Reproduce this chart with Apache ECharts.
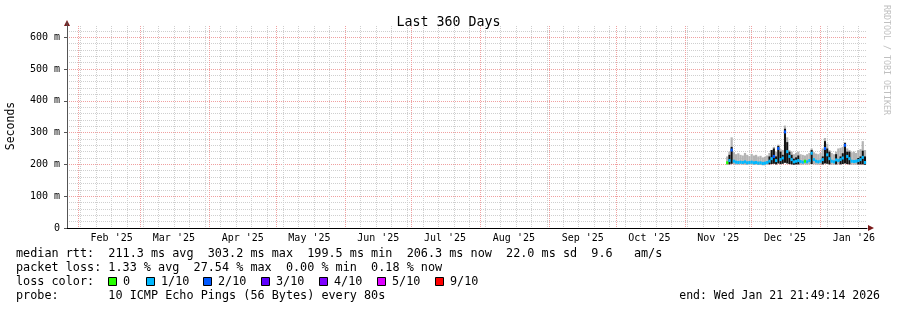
<!DOCTYPE html>
<html><head><meta charset="utf-8">
<script src="https://cdn.jsdelivr.net/npm/echarts@6/dist/echarts.min.js"></script>
<style>html,body{margin:0;padding:0;background:#fff}#c{width:897px;height:310px}</style>
</head><body><div id="c"></div>
<script>
// ---- time frame ----
const END_TIME = Date.UTC(2026, 0, 21, 21, 49, 14);
const START_TIME = END_TIME - 360 * 86400000;
const FIRST_DAY = Date.UTC(2025, 10, 20);   // first day with data (daily samples)

// ---- series values (ms), one per day from Nov 20 2025 ----
const medianRtt = [205,212,245,210,207,206,207,206,208,205,206,207,205,206,204,205,203,204,206,210,
                   218,225,212,250,215,220,302,240,225,215,208,210,212,209,207,210,208,212,235,215,
                   210,208,210,215,250,230,218,210,208,214,212,215,220,260,225,218,210,209,210,212,
                   215,222,206];
const smokeLow  = [199,200,202,200,199,199,200,199,199,198,199,199,198,199,198,198,197,197,199,200,
                   201,202,200,203,201,202,205,203,201,200,199,200,200,199,199,200,199,200,201,200,
                   199,199,200,200,203,202,200,199,199,200,200,200,201,203,201,200,199,199,199,200,
                   200,200,199];
const smokeHigh = [225,240,285,238,232,235,230,228,236,230,226,233,228,230,225,227,222,224,228,236,
                   245,255,240,262,248,245,322,285,245,240,232,236,240,232,230,228,232,236,250,238,
                   234,232,236,250,283,265,245,236,232,240,250,252,255,270,250,245,238,240,236,245,
                   248,273,245];
const darkTop   = [0,230,255,0,0,0,0,0,0,0,0,0,0,0,0,0,0,0,0,225,
                   245,250,225,258,240,230,312,270,240,230,218,222,228,0,0,0,0,0,245,0,
                   0,0,0,225,273,250,240,0,0,232,0,225,235,267,240,240,0,0,0,220,
                   225,243,225];
const lossTenths = [0,1,2,1,1,1,1,1,1,1,1,1,1,1,1,1,1,1,1,1,
                    1,2,1,2,1,1,2,1,1,1,1,1,1,1,1,0,1,1,1,1,
                    1,1,1,1,2,1,1,1,1,1,1,1,1,2,1,1,1,1,1,1,
                    1,1,1];

// ---- tick labels ----
const monthLabels = ["Feb '25","Mar '25","Apr '25","May '25","Jun '25","Jul '25",
                     "Aug '25","Sep '25","Oct '25","Nov '25","Dec '25","Jan '26"];
const yMajorTicks = [0,100,200,300,400,500,600];
const yMajorLabels = ["0","100 m","200 m","300 m","400 m","500 m","600 m"];
const lossNames = ["0","1/10","2/10","3/10","4/10","5/10","9/10"];
const lossColors = ["#26ff00","#00b8ff","#0059ff","#5e00ff","#7e00ff","#dd00ff","#ff0000"];

// ---- derived tick positions ----
const DAY = 86400000;
const GRID_GREY = '#cfcfcf';
const GRID_RED = '#f0a0a0';
const monthStarts = monthLabels.map((_, i) => Date.UTC(2025, 1 + i, 1));
const monthMids = monthLabels.map((_, i) => Date.UTC(2025, 1 + i, 16));
const weekLines = [];
for (let t = Date.UTC(2025, 1, 2); t <= END_TIME; t += 7 * DAY) weekLines.push(t);
const yMinorTicks = [];
for (let v = 0; v <= 620; v += 20) yMinorTicks.push(v);

const days = medianRtt.map((_, i) => FIRST_DAY + i * DAY);
const MONO = "DejaVu Sans Mono";

const chart = echarts.init(document.getElementById('c'), null, {renderer: 'canvas'});

function rectBetween(api, t0, t1, vTop, vBot) {
  const a = api.coord([t0, vTop]);
  const b = api.coord([t1, vBot]);
  return {x: a[0], y: a[1], width: b[0] - a[0], height: b[1] - a[1]};
}

const grid = {left: 67, right: 30, top: 26, bottom: 82};

const lossTexts = [];
const lossBoxX = [108, 146, 203, 261, 319, 377, 435];
lossNames.forEach((n, i) => {
  lossTexts.push({type: 'rect', shape: {x: lossBoxX[i] + 0.5, y: 277.5, width: 8, height: 8},
    style: {fill: lossColors[i], stroke: '#000', lineWidth: 1}});
  lossTexts.push({type: 'text', x: lossBoxX[i] + 15, y: 282,
    style: {text: n, font: '11.8px "' + MONO + '"', fill: '#000', verticalAlign: 'middle'}});
});

chart.setOption({
  animation: false,
  backgroundColor: '#ffffff',
  title: {text: 'Last 360 Days', left: 'center', top: 11,
    textStyle: {fontFamily: MONO, fontSize: 13.3, fontWeight: 'normal', color: '#000'}},
  grid: grid,
  xAxis: [
    {type: 'value', min: START_TIME, max: END_TIME, position: 'bottom',
     axisLine: {show: false}, axisLabel: {show: false},
     axisTick: {show: false, customValues: weekLines},
     splitLine: {show: true, lineStyle: {color: GRID_GREY, width: 1, type: [1, 1]}}},
    {type: 'value', min: START_TIME, max: END_TIME, position: 'bottom',
     axisLine: {show: true, lineStyle: {color: '#000', width: 1}},
     axisTick: {show: false, customValues: monthStarts},
     axisLabel: {show: true, customValues: monthMids, margin: 5,
       fontFamily: MONO, fontSize: 10, color: '#000', align: 'center',
       formatter: v => { const i = monthMids.indexOf(v); return i >= 0 ? monthLabels[i] : ''; }},
     splitLine: {show: true, lineStyle: {color: GRID_RED, width: 1, type: [1, 1]}}}
  ],
  yAxis: [
    {type: 'value', min: 0, max: 635, position: 'left',
     axisLine: {show: false}, axisLabel: {show: false},
     axisTick: {show: false, customValues: yMinorTicks},
     splitLine: {show: true, lineStyle: {color: GRID_GREY, width: 1, type: [1, 1]}}},
    {type: 'value', min: 0, max: 635, position: 'left',
     axisLine: {show: true, lineStyle: {color: '#555', width: 1}},
     axisTick: {show: true, customValues: yMajorTicks, length: 3, lineStyle: {color: '#555'}},
     axisLabel: {show: true, customValues: yMajorTicks, margin: 7,
       fontFamily: MONO, fontSize: 10, color: '#000',
       formatter: v => { const i = yMajorTicks.indexOf(v); return i >= 0 ? yMajorLabels[i] : ''; }},
     splitLine: {show: true, lineStyle: {color: GRID_RED, width: 1, type: [1, 1]}}}
  ],
  series: [
    {type: 'custom', name: 'smoke', xAxisIndex: 1, yAxisIndex: 1, silent: true,
     data: days.map((t, i) => [t, smokeLow[i], smokeHigh[i]]),
     encode: {x: 0, y: [1, 2]},
     renderItem: (p, api) => ({type: 'rect',
       shape: rectBetween(api, api.value(0) - DAY / 2, api.value(0) + DAY / 2, api.value(2), api.value(1)),
       style: {fill: '#b4b4b4'}})},
    {type: 'custom', name: 'dark', xAxisIndex: 1, yAxisIndex: 1, silent: true,
     data: days.map((t, i) => [t, smokeLow[i], darkTop[i]]),
     encode: {x: 0, y: [1, 2]},
     renderItem: (p, api) => {
       if (!api.value(2)) return null;
       const r = rectBetween(api, api.value(0) - DAY / 2, api.value(0) + DAY / 2, api.value(2), api.value(1));
       const cx = r.x + r.width / 2;
       return {type: 'rect', shape: {x: cx - 1, y: r.y, width: 2, height: r.height}, style: {fill: '#111'}};
     }},
    {type: 'custom', name: 'median', xAxisIndex: 1, yAxisIndex: 1, silent: true,
     data: days.map((t, i) => [t, medianRtt[i], lossTenths[i]]),
     encode: {x: 0, y: 1},
     renderItem: (p, api) => {
       const a = api.coord([api.value(0) - DAY / 2, api.value(1)]);
       const b = api.coord([api.value(0) + DAY / 2, api.value(1)]);
       return {type: 'rect', shape: {x: a[0], y: a[1] - 1.5, width: b[0] - a[0], height: 3},
         style: {fill: lossColors[api.value(2)]}};
     }}
  ],
  graphic: [
    {type: 'text', x: 11, y: 126, rotation: Math.PI / 2,
     style: {text: 'Seconds', font: '11.5px "' + MONO + '"', fill: '#000', align: 'center', verticalAlign: 'middle'}},
    {type: 'text', x: 886, y: 60, rotation: -Math.PI / 2,
     style: {text: 'RRDTOOL / TOBI OETIKER', font: '8.3px "' + MONO + '"', fill: '#c0c0c0', align: 'center', verticalAlign: 'middle'}},
    {type: 'polygon', shape: {points: [[64, 26], [70, 26], [67, 20]]}, style: {fill: '#7a1a1a'}},
    {type: 'line', shape: {x1: 67, y1: 26, x2: 67, y2: 22}, style: {stroke: '#555', lineWidth: 1}},
    {type: 'polygon', shape: {points: [[868, 225], [868, 231], [874, 228]]}, style: {fill: '#7a1a1a'}},
    {type: 'text', x: 16, y: 254,
     style: {text: 'median rtt:  211.3 ms avg  303.2 ms max  199.5 ms min  206.3 ms now  22.0 ms sd  9.6   am/s',
       font: '11.8px "' + MONO + '"', fill: '#000', verticalAlign: 'middle'}},
    {type: 'text', x: 16, y: 268,
     style: {text: 'packet loss: 1.33 % avg  27.54 % max  0.00 % min  0.18 % now',
       font: '11.8px "' + MONO + '"', fill: '#000', verticalAlign: 'middle'}},
    {type: 'text', x: 16, y: 282,
     style: {text: 'loss color:', font: '11.8px "' + MONO + '"', fill: '#000', verticalAlign: 'middle'}},
    ...lossTexts,
    {type: 'text', x: 16, y: 296,
     style: {text: 'probe:       10 ICMP Echo Pings (56 Bytes) every 80s',
       font: '11.8px "' + MONO + '"', fill: '#000', verticalAlign: 'middle'}},
    {type: 'text', x: 880, y: 296,
     style: {text: 'end: Wed Jan 21 21:49:14 2026', font: '11.5px "' + MONO + '"', fill: '#000',
       align: 'right', verticalAlign: 'middle'}}
  ]
});
</script>
</body></html>
